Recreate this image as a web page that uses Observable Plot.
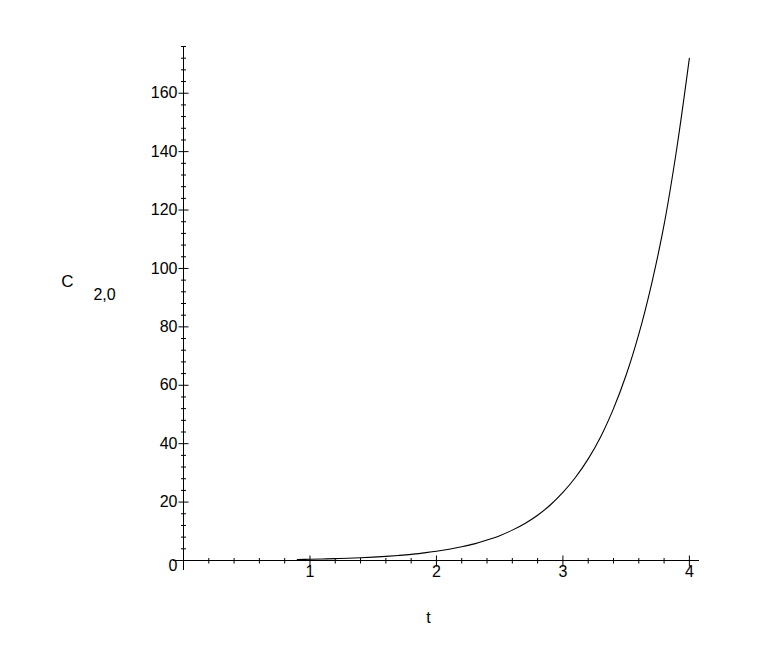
<!DOCTYPE html>
<html>
<head>
<meta charset="utf-8">
<script src="https://cdn.jsdelivr.net/npm/d3@7"></script>
<script src="https://cdn.jsdelivr.net/npm/@observablehq/plot@0.6"></script>
<style>
  html, body { margin: 0; padding: 0; background: #fff; }
  #chart svg { display: block; }
</style>
</head>
<body>
<div id="chart"></div>
<script>
// Data
const tValues = [0.9, 1.0, 1.1, 1.2, 1.3, 1.4, 1.5, 1.6, 1.7, 1.8, 1.9, 2.0, 2.1, 2.2, 2.3, 2.4, 2.5, 2.6, 2.7, 2.8, 2.9, 3.0, 3.1, 3.2, 3.3, 3.4, 3.5, 3.6, 3.7, 3.8, 3.9, 4.0];
const cValues = [0.35, 0.43, 0.52, 0.64, 0.78, 0.95, 1.16, 1.42, 1.73, 2.1, 2.6, 3.15, 3.85, 4.7, 5.7, 7.0, 8.5, 10.4, 12.7, 15.5, 19, 23.3, 28.5, 34.8, 42.5, 52, 63.5, 77.5, 94.5, 115, 141, 172];

// Tick labels
const xMajor = [1, 2, 3, 4];
const xMinor = [0.2, 0.4, 0.6, 0.8, 1.2, 1.4, 1.6, 1.8, 2.2, 2.4, 2.6, 2.8, 3.2, 3.4, 3.6, 3.8];
const yMajor = [20, 40, 60, 80, 100, 120, 140, 160];
const yMinor = [4, 8, 12, 16, 24, 28, 32, 36, 44, 48, 52, 56, 64, 68, 72, 76, 84, 88, 92, 96,
  104, 108, 112, 116, 124, 128, 132, 136, 144, 148, 152, 156, 164, 168, 172, 176];

const data = tValues.map((t, i) => ({t, c: cValues[i]}));

const font = "Liberation Sans, Arial, sans-serif";

// tick shapes (plain line segments crossing the axis)
const hTick = (half) => ({draw(ctx) { ctx.moveTo(-half, 0); ctx.lineTo(half, 0); }});
const vTick = (up, down) => ({draw(ctx) { ctx.moveTo(0, -up); ctx.lineTo(0, down); }});

const chart = Plot.plot({
  width: 763,
  height: 671,
  marginLeft: 183,
  marginRight: 64,
  marginTop: 46,
  marginBottom: 111,
  style: {fontFamily: font, fontSize: "16px", color: "#000", background: "#fff"},
  x: {domain: [0, 4.08], axis: null},
  y: {domain: [0, 176], axis: null},
  marks: [
    // axis lines
    Plot.ruleY([0], {stroke: "#000", strokeWidth: 1, insetLeft: -10}),
    Plot.ruleX([0], {stroke: "#000", strokeWidth: 1, insetBottom: -10}),
    // y ticks
    Plot.dot(yMajor, {y: d => d, frameAnchor: "left", symbol: hTick(5), stroke: "#000", fill: "none", strokeWidth: 1}),
    Plot.dot(yMinor, {y: d => d, frameAnchor: "left", symbol: hTick(2.5), stroke: "#000", fill: "none", strokeWidth: 1}),
    // x ticks
    Plot.dot(xMajor, {x: d => d, frameAnchor: "bottom", symbol: vTick(5, 6), stroke: "#000", fill: "none", strokeWidth: 1}),
    Plot.dot(xMinor, {x: d => d, frameAnchor: "bottom", symbol: vTick(2.5, 3), stroke: "#000", fill: "none", strokeWidth: 1}),
    // tick labels
    Plot.axisY({ticks: yMajor, tickSize: 0, tickPadding: 6, fontSize: 16, fontFamily: font, label: null, tickFormat: d => String(d)}),
    Plot.axisX({ticks: xMajor, tickSize: 0, tickPadding: 5, fontSize: 16, fontFamily: font, label: null, tickFormat: d => String(d)}),
    Plot.text(["0"], {text: d => d, frameAnchor: "bottom-left", textAnchor: "end", dx: -6, dy: 10, fontSize: 16, fill: "#000"}),
    // the curve
    Plot.line(data, {x: "t", y: "c", stroke: "#000", strokeWidth: 1.1, curve: "catmull-rom"}),
    // axis titles
    Plot.text(["C"], {text: d => d, frameAnchor: "left", textAnchor: "middle", dx: -116, dy: -22, fontSize: 17, fill: "#000"}),
    Plot.text(["2,0"], {text: d => d, frameAnchor: "left", textAnchor: "middle", dx: -79, dy: -9, fontSize: 16, fill: "#000"}),
    Plot.text(["t"], {text: d => d, frameAnchor: "bottom", textAnchor: "middle", dx: -13, dy: 62, fontSize: 16, fill: "#000"})
  ]
});

document.getElementById("chart").appendChild(chart);
</script>
</body>
</html>
